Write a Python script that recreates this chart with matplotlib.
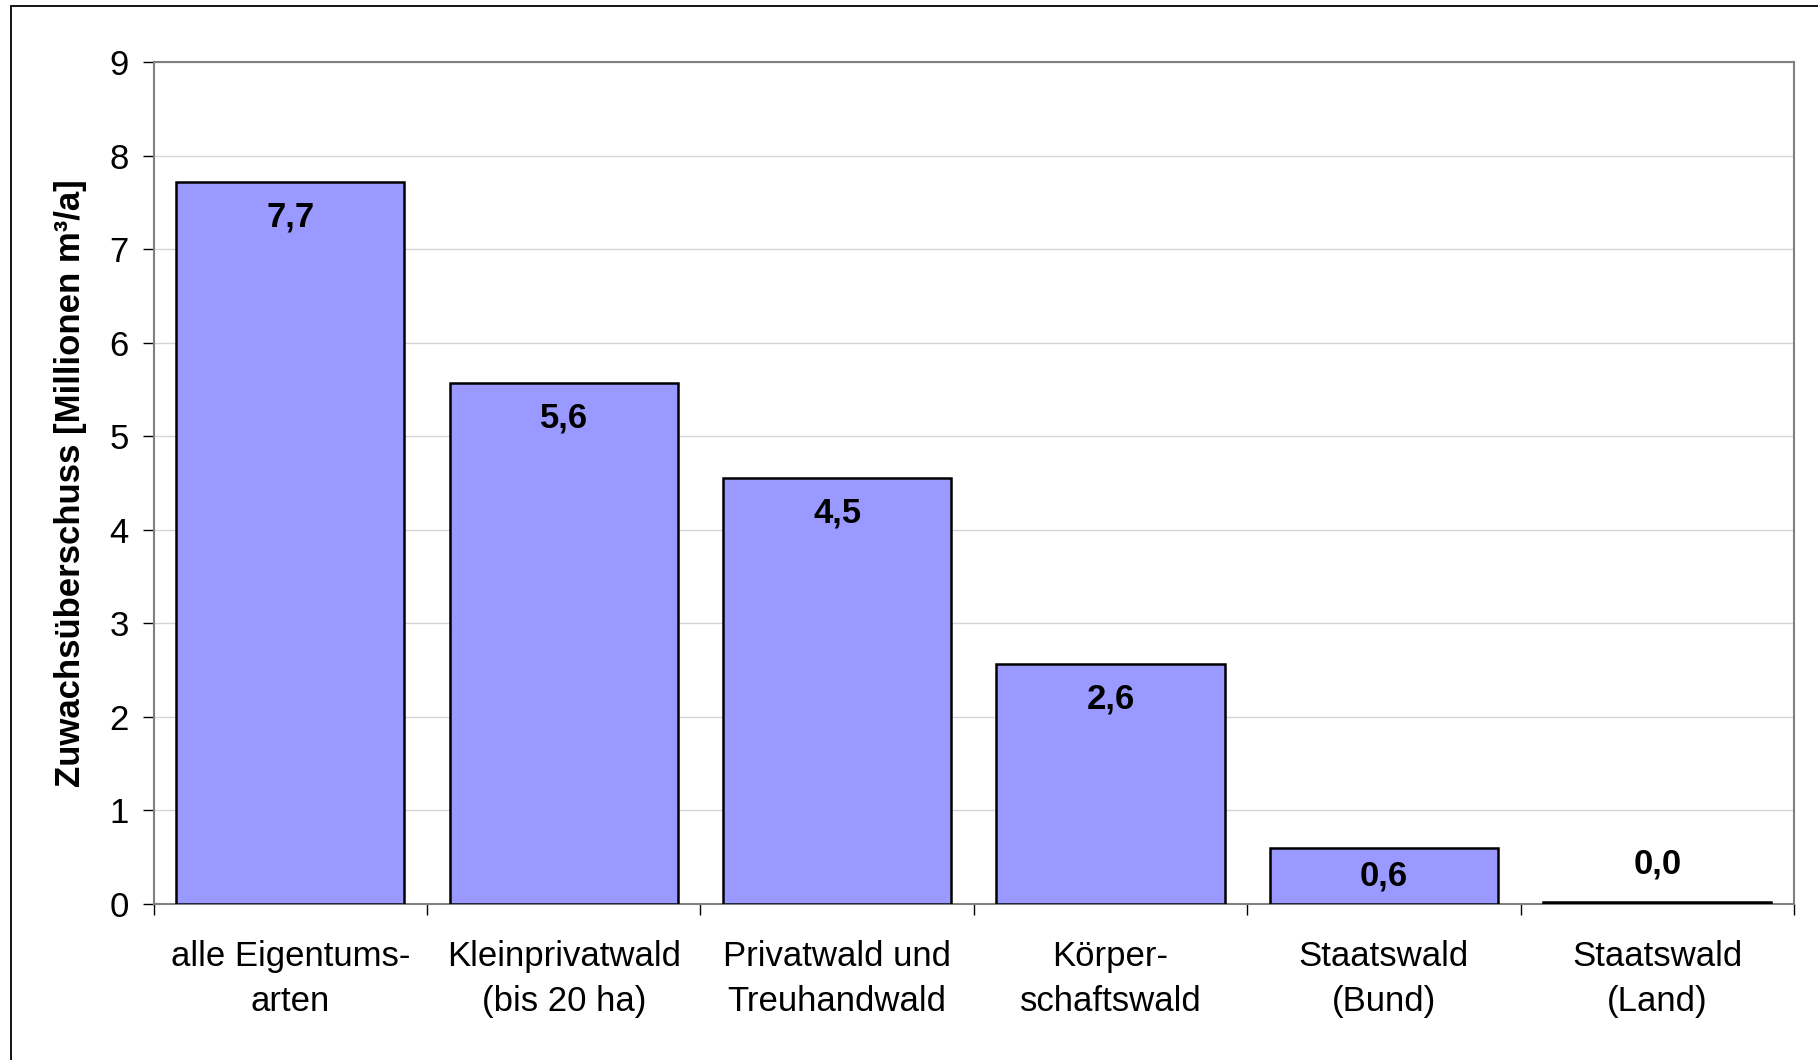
import matplotlib
matplotlib.use("Agg")
import matplotlib.pyplot as plt
import numpy as np
from matplotlib.patches import Rectangle

plt.rcParams['font.family'] = ['Liberation Sans', 'DejaVu Sans']

categories = ["alle Eigentums-\narten", "Kleinprivatwald\n(bis 20 ha)", "Privatwald und\nTreuhandwald",
              "Körper-\nschaftswald", "Staatswald\n(Bund)", "Staatswald\n(Land)"]
values = [7.72, 5.57, 4.55, 2.57, 0.60, 0.02]
y_ticks = list(range(0, 10))

fig = plt.figure(figsize=(18.18, 10.60), dpi=100)
ax = fig.add_axes([0.0845, 0.1472, 0.9023, 0.7943])

x = np.arange(len(categories))
bars = ax.bar(x, values, width=0.835, color="#9999FF", edgecolor="black", linewidth=1.8, zorder=3)

ax.set_xlim(-0.5, len(categories) - 0.5)
ax.set_ylim(0, 9)
ax.set_yticks(y_ticks)
ax.set_yticklabels([str(t) for t in y_ticks], fontsize=25)
ax.set_xticks(x)
ax.set_xticklabels(categories, fontsize=25, linespacing=1.45)
ax.set_xticks(np.arange(-0.5, len(categories)), minor=True)
ax.tick_params(axis="x", which="major", length=0, pad=26)
ax.tick_params(axis="x", which="minor", length=8, width=1, color="black")
ax.tick_params(axis="y", length=8, width=1, color="black", pad=10)

ax.grid(axis="y", color="#D4D4D4", linewidth=1, zorder=0)
for s in ax.spines.values():
    s.set_color("#808080")
    s.set_linewidth(1.5)

ax.set_ylabel("Zuwachsüberschuss [Millionen m³/a]", fontsize=25, fontweight="bold", labelpad=16)

# value labels
px_per_unit = (0.7943 * 1060) / 9
for xi, v in zip(x, values):
    h_px = v * px_per_unit
    if h_px < 10:
        off = 38
    else:
        off = -min(35, h_px / 2)
    ax.annotate(f"{v:.1f}".replace(".", ","), (xi, v), xytext=(0, off * 0.72),
                textcoords="offset points", ha="center", va="center",
                fontsize=25, fontweight="bold", zorder=4)

# outer chart frame
fig.patches.append(Rectangle((11 / 1818, -0.1), 1.2, 1 - 6 / 1060 + 0.1, transform=fig.transFigure,
                             fill=False, edgecolor="black", linewidth=1.3))

fig.savefig("out.png", dpi=100)
